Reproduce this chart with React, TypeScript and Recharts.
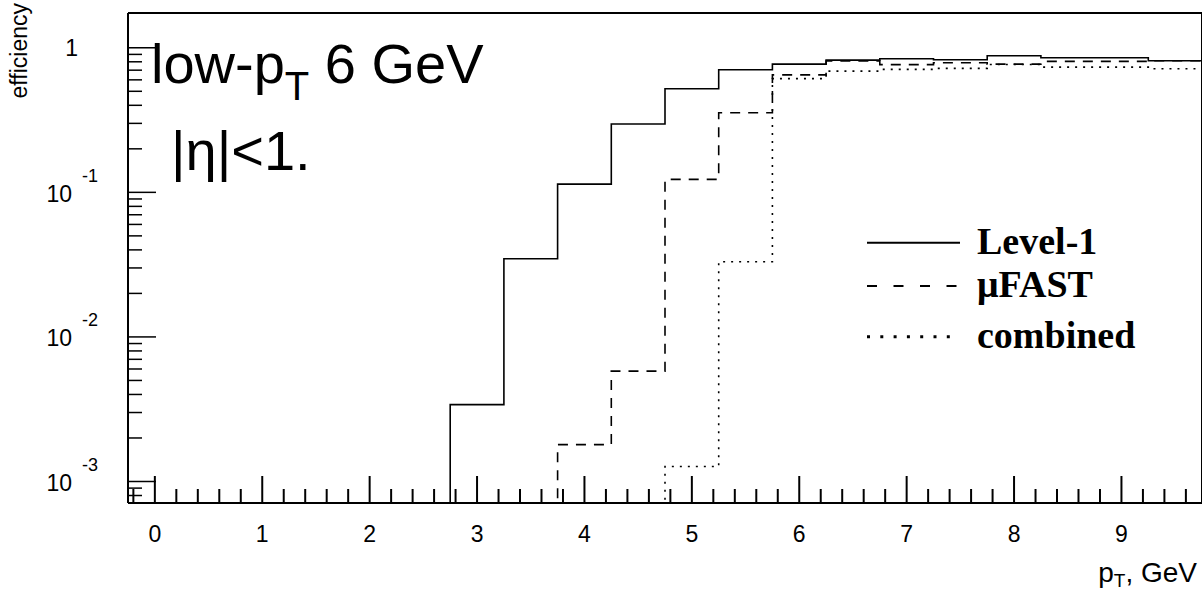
import React from 'react';
import { LineChart, Line, XAxis, YAxis, ReferenceLine } from 'recharts';

// histogram bins (width 0.5 GeV)
const binCenters = [0, 0.5, 1, 1.5, 2, 2.5, 3, 3.5, 4, 4.5, 5, 5.5, 6, 6.5, 7, 7.5, 8, 8.5, 9, 9.5];
const level1 = [0, 0, 0, 0, 0, 0, 0.0034, 0.0347, 0.114, 0.297, 0.521, 0.705, 0.771, 0.822, 0.839, 0.826, 0.881, 0.853, 0.853, 0.813];
const muFast = [0, 0, 0, 0, 0, 0, 0, 0, 0.0018, 0.0058, 0.123, 0.355, 0.65, 0.81, 0.765, 0.788, 0.771, 0.805, 0.805, 0.813];
const combined = [0, 0, 0, 0, 0, 0, 0, 0, 0, 0, 0.00127, 0.0331, 0.612, 0.69, 0.709, 0.72, 0.767, 0.735, 0.735, 0.716];

const xMajorTicks = [0, 1, 2, 3, 4, 5, 6, 7, 8, 9];
const xTickLabels = ['0', '1', '2', '3', '4', '5', '6', '7', '8', '9'];
const yMajorTicks = [0.001, 0.01, 0.1, 1];
const yTickLabels = ['10^-3', '10^-2', '10^-1', '1'];

const seriesNames = ['Level-1', '\u03bcFAST', 'combined'];

const BIN_HALF = 0.25;
const X_DOMAIN = [-0.25, 9.75];
const Y_DOMAIN = [7.1e-4, 1.74];
const LOG_FLOOR = 1e-5; // empty bins sit below the visible range
const SANS = '"Liberation Sans", Arial, sans-serif';
const SERIF = '"Liberation Serif", "Times New Roman", serif';

const fl = (v: number) => (v > 0 ? v : LOG_FLOOR);

const rows = binCenters.map((c, i) => ({
  x: c - BIN_HALF,
  l1: fl(level1[i]),
  mu: fl(muFast[i]),
  comb: fl(combined[i]),
}));
const last = binCenters.length - 1;
rows.push({
  x: binCenters[last] + BIN_HALF,
  l1: fl(level1[last]),
  mu: fl(muFast[last]),
  comb: fl(combined[last]),
});

// minor ticks every 0.2 on x
const xTicks: number[] = [];
for (let i = -1; i <= 48; i++) xTicks.push(Math.round(i * 2) / 10);

// minor ticks 2..9 per decade on y
const yTicks: number[] = [...yMajorTicks];
for (let d = -4; d <= 0; d++) {
  for (let k = 2; k <= 9; k++) {
    const v = k * Math.pow(10, d);
    if (v > Y_DOMAIN[0] && v < Y_DOMAIN[1]) yTicks.push(v);
  }
}

function XTick(props: any) {
  const { x, y, payload } = props;
  const v = payload.value;
  const idx = xMajorTicks.findIndex((t) => Math.abs(t - v) < 1e-6);
  const len = idx >= 0 ? 27 : 14;
  return (
    <g>
      <line x1={x} x2={x} y1={y} y2={y - len} stroke="#000" strokeWidth={2} />
      {idx >= 0 && (
        <text x={x} y={y + 39} textAnchor="middle" fontFamily={SANS} fontSize={23} fill="#000">
          {xTickLabels[idx]}
        </text>
      )}
    </g>
  );
}

function YTick(props: any) {
  const { x, y, payload } = props;
  const v = payload.value;
  const idx = yMajorTicks.findIndex((t) => Math.abs(t - v) / t < 1e-6);
  const len = idx >= 0 ? 28 : 14;
  let label = null;
  if (idx >= 0) {
    const [base, exp] = yTickLabels[idx].split('^');
    label = exp ? (
      <g fontFamily={SANS} fill="#000">
        <text x={72} y={y + 9.5} textAnchor="end" fontSize={23}>{base}</text>
        <text x={82} y={y - 10.5} textAnchor="start" fontSize={18}>{exp}</text>
      </g>
    ) : (
      <text x={78} y={y + 8.5} textAnchor="end" fontFamily={SANS} fontSize={23} fill="#000">{base}</text>
    );
  }
  return (
    <g>
      <line x1={x} x2={x + len} y1={y} y2={y} stroke="#000" strokeWidth={1.5} />
      {label}
    </g>
  );
}

const legendDash = ['', '10 16.5', '3 10.3'];
const legendRowY = [242.7, 286, 336.7];

export default function App() {
  return (
    <div style={{ position: 'absolute', left: 0, top: 0, width: 1202, height: 590, background: '#fff' }}>
      <LineChart width={1202} height={590} data={rows} margin={{ top: 13, right: 0, bottom: 0, left: 0 }}>
        <XAxis
          type="number"
          dataKey="x"
          domain={X_DOMAIN}
          allowDataOverflow
          ticks={xTicks}
          interval={0}
          tick={<XTick />}
          tickLine={false}
          tickSize={0}
          tickMargin={0}
          height={87}
          axisLine={{ stroke: '#000', strokeWidth: 2 }}
          label={{
            content: () => (
              <text x={1197} y={582} textAnchor="end" fontFamily={SANS} fontSize={28} fill="#000">
                p<tspan fontSize={19} dy={5}>T</tspan>
                <tspan dy={-5}>, GeV</tspan>
              </text>
            ),
          }}
        />
        <YAxis
          type="number"
          scale="log"
          domain={Y_DOMAIN}
          allowDataOverflow
          ticks={yTicks}
          interval={0}
          tick={<YTick />}
          tickLine={false}
          tickSize={0}
          tickMargin={0}
          width={128}
          axisLine={{ stroke: '#000', strokeWidth: 2 }}
          label={{
            content: () => (
              <text
                x={27}
                y={3}
                transform="rotate(-90 27 3)"
                textAnchor="end"
                fontFamily={SANS}
                fontSize={23}
                fill="#000"
              >
                efficiency
              </text>
            ),
          }}
        />
        <ReferenceLine y={Y_DOMAIN[1]} stroke="#000" strokeWidth={2} />
        <ReferenceLine x={X_DOMAIN[1]} stroke="#000" strokeWidth={2} />
        <Line dataKey="l1" type="stepAfter" stroke="#000" strokeWidth={1.6} dot={false} isAnimationActive={false} />
        <Line dataKey="mu" type="stepAfter" stroke="#000" strokeWidth={1.6} strokeDasharray="10 8" dot={false} isAnimationActive={false} />
        <Line dataKey="comb" type="stepAfter" stroke="#000" strokeWidth={1.6} strokeDasharray="2 6" dot={false} isAnimationActive={false} />
      </LineChart>
      <svg width={1202} height={590} style={{ position: 'absolute', left: 0, top: 0, pointerEvents: 'none' }}>
        <text x={151} y={83} fontFamily={SANS} fontSize={56} fill="#000">
          low-p<tspan fontSize={40} dy={17}>T</tspan>
          <tspan dy={-17}> 6 GeV</tspan>
        </text>
        <text x={171} y={170} fontFamily={SANS} fontSize={56} fill="#000">
          |η|&lt;1.
        </text>
        {seriesNames.map((name, i) => (
          <g key={name}>
            <line
              x1={867}
              x2={960}
              y1={legendRowY[i]}
              y2={legendRowY[i]}
              stroke="#000"
              strokeWidth={i === 2 ? 3 : 2}
              strokeDasharray={legendDash[i] || undefined}
            />
            <text x={977} y={legendRowY[i] + 11} fontFamily={SERIF} fontWeight="bold" fontSize={38} fill="#000">
              {name}
            </text>
          </g>
        ))}
      </svg>
    </div>
  );
}
